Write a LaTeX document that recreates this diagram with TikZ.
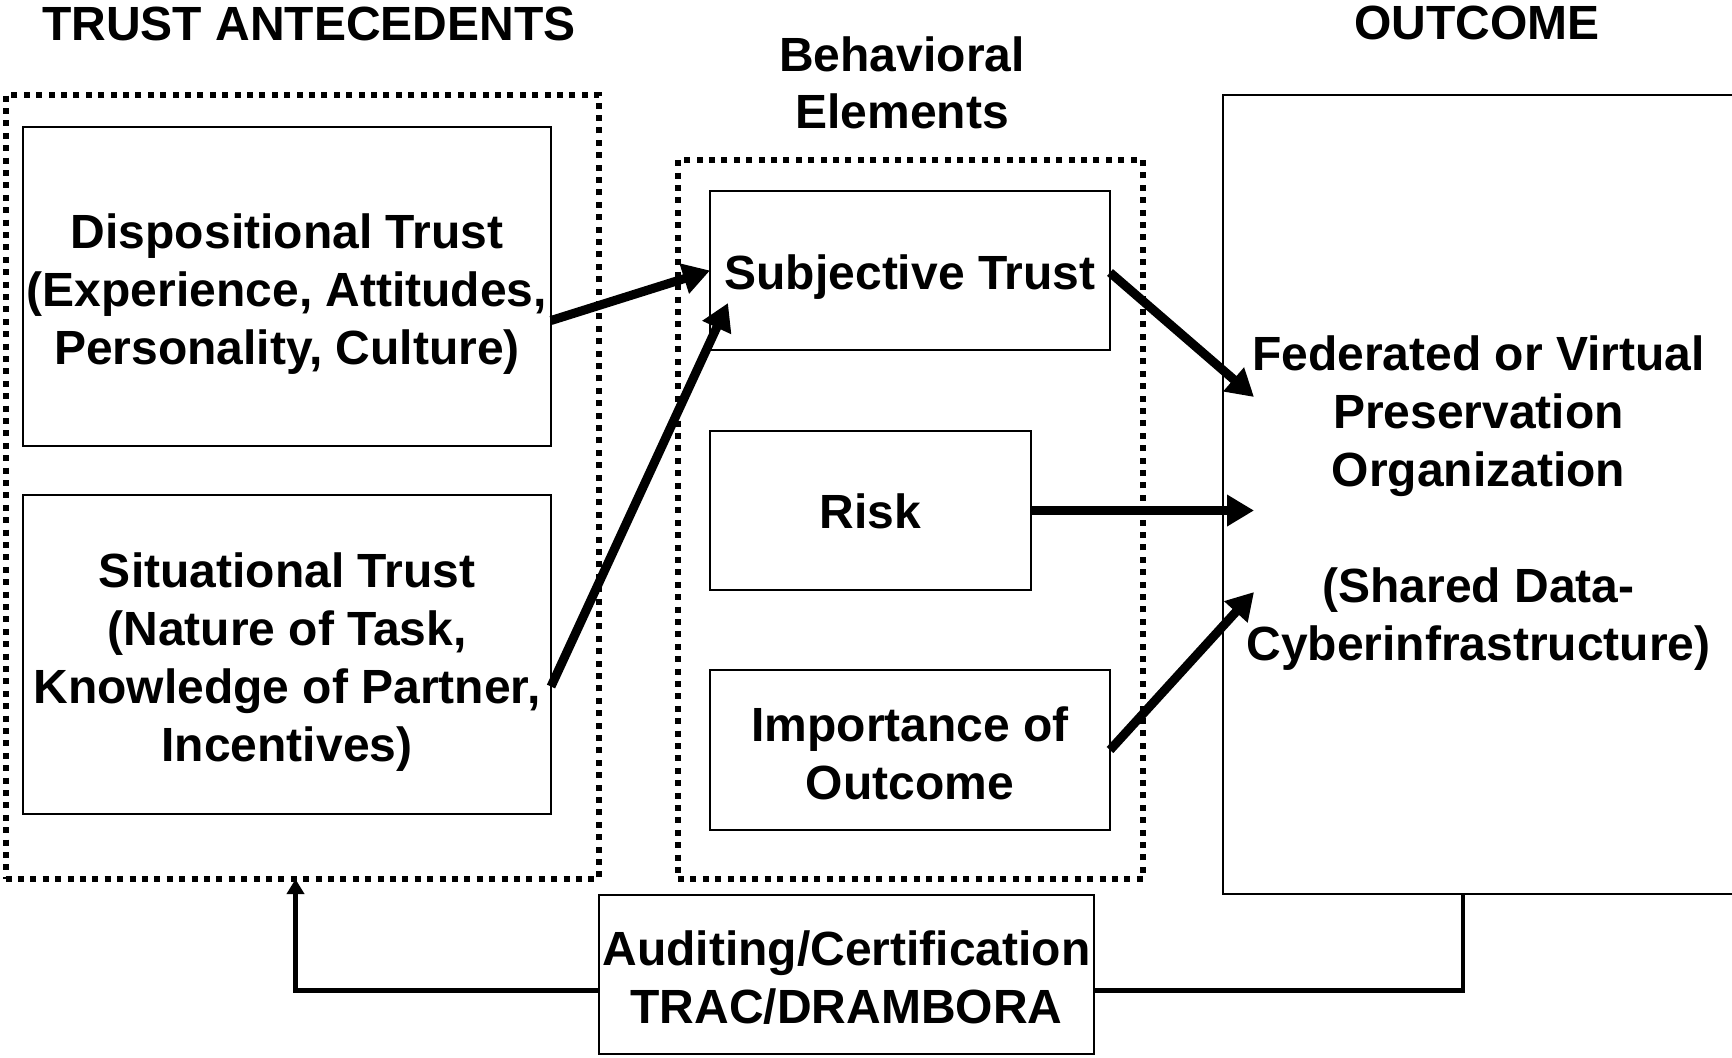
\documentclass[tikz,border=0pt]{standalone}
\usepackage{fontspec}
\setmainfont{Liberation Sans}
\usetikzlibrary{arrows.meta,calc}
\begin{document}
\begin{tikzpicture}[x=0.5pt,y=-0.5pt,
  font=\fontsize{24}{29}\selectfont\bfseries,
  box/.style={draw, line width=1pt, inner sep=0pt, outer sep=0pt},
  txt/.style={align=center, inner sep=0pt},
  dotbox/.style={draw, line width=3pt, dash pattern=on 3pt off 3.2pt, inner sep=0pt, outer sep=0pt},
  title/.style={align=center, inner sep=0pt},
  arr/.style={line width=4.5pt, -{Triangle[length=13.5pt,width=15pt]}},
  fb/.style={line width=2.4pt}
]
\useasboundingbox (0,0) rectangle (1732,1057);

% titles
\node[title] (t1) at (309,24) {TRUST ANTECEDENTS};
\node[title, font=\fontsize{24}{28.5}\selectfont\bfseries] (t2) at (902,83) {Behavioral\\Elements};
\node[title] (t3) at (1477,23) {OUTCOME};

% dotted group boxes
\node[dotbox, minimum width=296.75pt, minimum height=392pt] (box1) at (302.25,487) {};
\node[dotbox, minimum width=232.5pt, minimum height=359.5pt] (box2) at (910.5,519.5) {};

% boxes
\node[box, minimum width=264pt, minimum height=159.5pt,
  label={[txt, yshift=-3.9pt]center:{Dispositional Trust\\(Experience, Attitudes,\\Personality, Culture)}}]
  (disp) at (287,286.5) {};
\node[box, minimum width=264pt, minimum height=159.5pt,
  label={[txt, yshift=-3.9pt]center:{Situational Trust\\(Nature of Task,\\Knowledge of Partner,\\Incentives)}}]
  (sit) at (287,654.5) {};
\node[box, minimum width=200pt, minimum height=79.5pt,
  label={[txt, yshift=-3.3pt]center:{Subjective Trust}}] (subj) at (910,270.5) {};
\node[box, minimum width=160.5pt, minimum height=79.5pt,
  label={[txt, yshift=-0.6pt]center:{Risk}}] (risk) at (870.5,510.5) {};
\node[box, minimum width=200pt, minimum height=80pt,
  label={[txt, yshift=-1.5pt]center:{Importance of\\Outcome}}] (imp) at (910,750) {};
\node[box, minimum width=255.5pt, minimum height=399.5pt,
  label={[txt, yshift=-4.1pt]center:{Federated or Virtual\\Preservation\\Organization\\[29pt](Shared Data-\\Cyberinfrastructure)}}]
  (out) at (1478.5,494.5) {};
\node[box, minimum width=247.5pt, minimum height=79.5pt,
  label={[txt, yshift=-1.4pt]center:{Auditing/Certification\\TRAC/DRAMBORA}}] (aud) at (846.5,974.5) {};

% arrows
\draw[arr] ($(disp.east)+(0,34)$) -- (subj.west);
\draw[arr] ($(sit.east)+(0,32)$) -- ($(subj.south west)+(18,-47)$);
\draw[arr] ($(subj.east)+(0,2)$) -- ($(out.west)+(31,-97.5)$);
\draw[arr] (risk.east) -- ($(out.west)+(31,16)$);
\draw[arr] (imp.east) -- ($(out.west)+(31,97.5)$);

% feedback loop
\coordinate (fbtop) at ($(out.south west)+(240,0)$);
\draw[fb] (fbtop) |- ($(aud.east)+(0,16)$);
\draw[fb, -{Triangle[length=7.5pt,width=8.5pt]}] ($(aud.west)+(0,16)$) -| ($(box1.south west)+(290,0)$);
\end{tikzpicture}
\end{document}
